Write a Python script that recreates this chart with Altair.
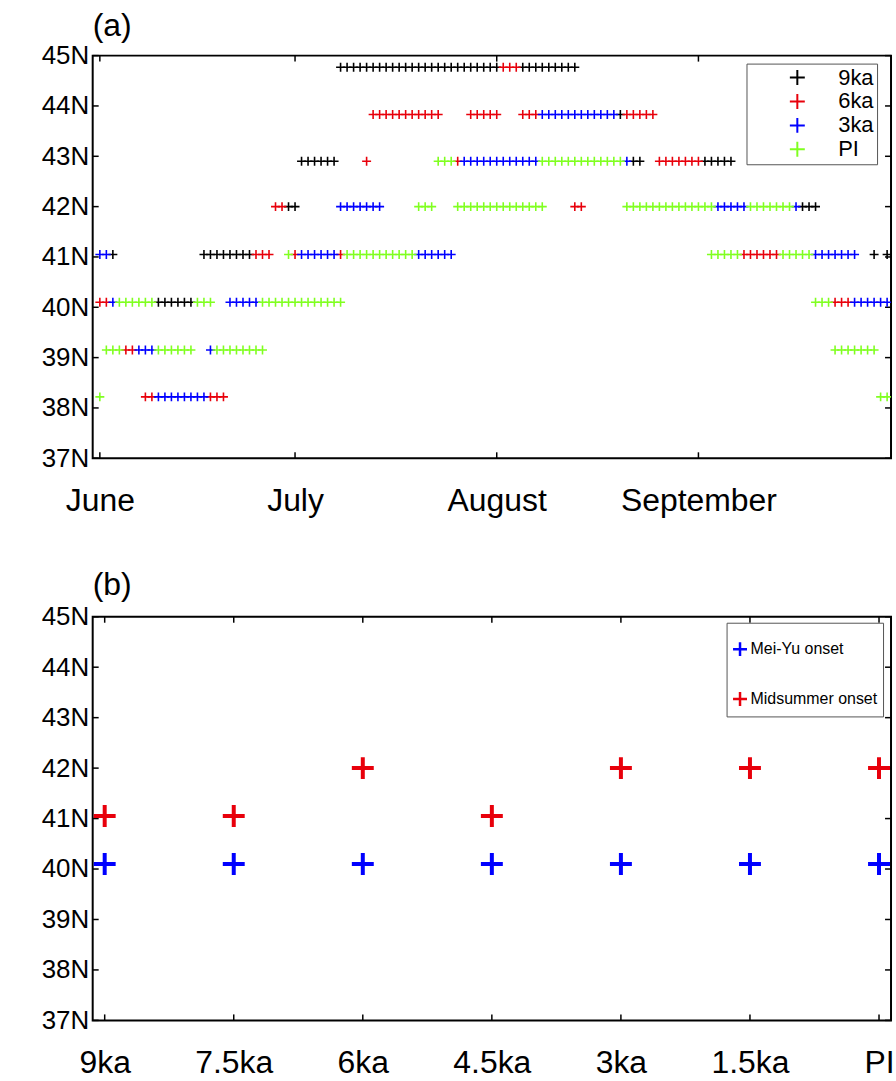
import altair as alt
import pandas as pd

FONT = "Liberation Sans"
PLUS = "M-1,0H1M0,-1V1"

# ---------------- panel (a) data ----------------
# day index: 0 = 1 June
month_ticks = [0, 30, 61, 92]
month_names = ["June", "July", "August", "September"]
lat_ticks = [37, 38, 39, 40, 41, 42, 43, 44, 45]

experiments = ["9ka", "6ka", "3ka", "PI"]
exp_colors = ["#000000", "#e8000b", "#0000ff", "#80ff20"]

# runs of consecutive days: (latitude, first day, last day)
runs_9ka = [(44.77, 37, 61), (44.77, 65, 73), (43.83, 80, 80), (42.9, 31, 36),
            (42.9, 82, 83), (42.9, 93, 97), (42.0, 29, 30), (42.0, 108, 110),
            (41.05, 2, 2), (41.05, 16, 23), (41.05, 119, 119), (41.05, 121, 121),
            (40.1, 9, 14)]
runs_6ka = [(44.77, 62, 64), (43.83, 42, 52), (43.83, 57, 61), (43.83, 65, 67),
            (43.83, 81, 85), (42.9, 41, 41), (42.9, 55, 55), (42.9, 86, 92),
            (42.0, 27, 28), (42.0, 73, 74), (41.05, 24, 26), (41.05, 30, 30),
            (41.05, 37, 37), (41.05, 99, 104), (40.1, 0, 1), (40.1, 113, 115),
            (39.15, 4, 5), (38.22, 7, 8), (38.22, 17, 19)]
runs_3ka = [(43.83, 68, 79), (42.9, 56, 67), (42.9, 81, 81), (42.0, 37, 43),
            (42.0, 95, 99), (42.0, 107, 107), (41.05, 0, 1), (41.05, 31, 36),
            (41.05, 49, 54), (41.05, 110, 116), (40.1, 2, 2), (40.1, 20, 24),
            (40.1, 116, 121), (39.15, 6, 8), (39.15, 17, 17), (38.22, 9, 16)]
runs_pi = [(42.9, 52, 54), (42.9, 68, 80), (42.0, 49, 51), (42.0, 55, 68),
           (42.0, 81, 94), (42.0, 100, 106), (41.05, 29, 29), (41.05, 38, 48),
           (41.05, 94, 98), (41.05, 105, 109), (40.1, 3, 8), (40.1, 15, 17),
           (40.1, 25, 37), (40.1, 110, 112), (39.15, 1, 3), (39.15, 9, 14),
           (39.15, 18, 25), (39.15, 113, 119), (38.22, 0, 0), (38.22, 120, 121)]

# ---------------- panel (b) data ----------------
periods = ["9ka", "7.5ka", "6ka", "4.5ka", "3ka", "1.5ka", "PI"]
meiyu_lat = [40.1, 40.1, 40.1, 40.1, 40.1, 40.1, 40.1]
midsummer_lat = [41.05, 41.05, 42.0, 41.05, 42.0, 42.0, 42.0]
onset_names = ["Mei-Yu onset", "Midsummer onset"]
onset_colors = ["#0000ff", "#e8000b"]

# ---------------- build tables ----------------
rows = []
for name, runs in zip(experiments, [runs_9ka, runs_6ka, runs_3ka, runs_pi]):
    for lat, a, b in runs:
        for d in range(a, b + 1):
            rows.append({"exp": name, "day": d, "lat": lat})
df_a = pd.DataFrame(rows)

df_b = pd.DataFrame(
    [{"period": p, "lat": v, "onset": onset_names[0]} for p, v in zip(periods, meiyu_lat)]
    + [{"period": p, "lat": v, "onset": onset_names[1]} for p, v in zip(periods, midsummer_lat)]
)

W, HA, HB = 801, 404, 405
TICK = 6

month_expr = " : ".join(
    [f"datum.value == {v} ? '{n}'" for v, n in zip(month_ticks, month_names)]
) + " : ''"

yscale = alt.Scale(domain=[37, 45], nice=False, zero=False)
yaxis = alt.Axis(values=lat_ticks, labelExpr="datum.value + 'N'", title=None,
                 labelFontSize=26, labelPadding=4, ticks=False, tickSize=0,
                 domain=False, grid=False, labelFont=FONT, labelColor="black")

xscale_a = alt.Scale(domain=[-1.1, 121.6], nice=False, zero=False)
xaxis_a = alt.Axis(values=month_ticks, labelExpr=month_expr, title=None,
                   labelFontSize=32, labelPadding=27, ticks=False, tickSize=0,
                   domain=False, grid=False, labelFont=FONT, labelColor="black",
                   labelFlush=False)

pts_a = alt.Chart(df_a).mark_point(
    shape=PLUS, size=81, strokeWidth=1.6, filled=False, opacity=1, clip=True
).encode(
    x=alt.X("day:Q", scale=xscale_a, axis=xaxis_a),
    y=alt.Y("lat:Q", scale=yscale, axis=yaxis),
    color=alt.Color("exp:N", scale=alt.Scale(domain=experiments, range=exp_colors),
                    legend=alt.Legend(title=None, orient="none", legendX=656, legendY=8,
                                      padding=3, strokeColor="#555555", fillColor="white",
                                      symbolType=PLUS, symbolSize=225, symbolStrokeWidth=2,
                                      symbolOffset=37, labelOffset=30, labelFontSize=22,
                                      labelFont=FONT, rowPadding=0, labelColor="black")),
)

ydf = pd.DataFrame({"lat": lat_ticks})
mdf = pd.DataFrame({"day": month_ticks})
tick_l_a = alt.Chart(ydf).mark_rule(color="black", strokeWidth=1.5).encode(
    y=alt.Y("lat:Q", scale=yscale, axis=yaxis), x=alt.value(0), x2=alt.value(TICK))
tick_r_a = alt.Chart(ydf).mark_rule(color="black", strokeWidth=1.5).encode(
    y=alt.Y("lat:Q", scale=yscale, axis=yaxis), x=alt.value(W - TICK), x2=alt.value(W))
tick_b_a = alt.Chart(mdf).mark_rule(color="black", strokeWidth=1.5).encode(
    x=alt.X("day:Q", scale=xscale_a, axis=xaxis_a), y=alt.value(HA - TICK), y2=alt.value(HA))
tick_t_a = alt.Chart(mdf).mark_rule(color="black", strokeWidth=1.5).encode(
    x=alt.X("day:Q", scale=xscale_a, axis=xaxis_a), y=alt.value(0), y2=alt.value(TICK))

panel_a = alt.layer(tick_l_a, tick_r_a, tick_b_a, tick_t_a, pts_a).properties(
    width=W, height=HA,
    title=alt.TitleParams("(a)", anchor="start", frame="group", fontSize=32,
                          fontWeight="normal", font=FONT, baseline="alphabetic",
                          offset=-25, color="black"),
)

# ---------------- panel (b) ----------------
xscale_b = alt.Scale(type="point", domain=periods, padding=0.093)
xaxis_b = alt.Axis(title=None, labelFontSize=32, labelPadding=27, ticks=False, tickSize=0,
                   domain=False, grid=False, labelFont=FONT, labelColor="black",
                   labelAngle=0)

pts_b = alt.Chart(df_b).mark_point(
    shape=PLUS, size=484, strokeWidth=4, filled=False, opacity=1, clip=True
).encode(
    x=alt.X("period:N", scale=xscale_b, axis=xaxis_b, sort=periods),
    y=alt.Y("lat:Q", scale=yscale, axis=yaxis),
    color=alt.Color("onset:N", scale=alt.Scale(domain=onset_names, range=onset_colors),
                    legend=alt.Legend(title=" ", titleFontSize=6, titlePadding=7,
                                      orient="none", legendX=636, legendY=6,
                                      padding=5, strokeColor="#555555", fillColor="white",
                                      symbolType=PLUS, symbolSize=196, symbolStrokeWidth=2.5,
                                      symbolOffset=0, labelOffset=2, labelFontSize=16,
                                      labelFont=FONT, rowPadding=25, labelColor="black")),
)

pdf = pd.DataFrame({"period": periods})
tick_l_b = alt.Chart(ydf).mark_rule(color="black", strokeWidth=1.5).encode(
    y=alt.Y("lat:Q", scale=yscale, axis=yaxis), x=alt.value(0), x2=alt.value(TICK))
tick_r_b = alt.Chart(ydf).mark_rule(color="black", strokeWidth=1.5).encode(
    y=alt.Y("lat:Q", scale=yscale, axis=yaxis), x=alt.value(W - TICK), x2=alt.value(W))
tick_b_b = alt.Chart(pdf).mark_rule(color="black", strokeWidth=1.5).encode(
    x=alt.X("period:N", scale=xscale_b, axis=xaxis_b, sort=periods),
    y=alt.value(HB - TICK), y2=alt.value(HB))
tick_t_b = alt.Chart(pdf).mark_rule(color="black", strokeWidth=1.5).encode(
    x=alt.X("period:N", scale=xscale_b, axis=xaxis_b, sort=periods),
    y=alt.value(0), y2=alt.value(TICK))

panel_b = alt.layer(tick_l_b, tick_r_b, tick_b_b, tick_t_b, pts_b).properties(
    width=W, height=HB,
    title=alt.TitleParams("(b)", anchor="start", frame="group", fontSize=32,
                          fontWeight="normal", font=FONT, baseline="alphabetic",
                          offset=-23, color="black"),
)

chart = alt.vconcat(panel_a, panel_b, spacing=51).resolve_scale(
    color="independent", x="independent"
).properties(
    padding={"left": 40, "top": 7, "right": 0, "bottom": 0},
    background="white",
).configure_view(stroke="black", strokeWidth=2)

chart.save("out.html", embed_options={"renderer": "svg", "actions": False})
